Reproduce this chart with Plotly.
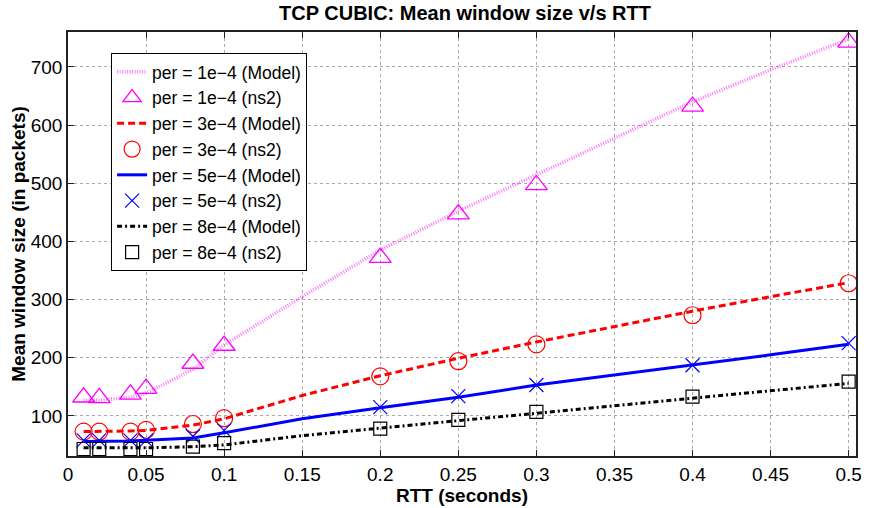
import plotly.graph_objects as go

# ns2 measurement points
rtt_ns2 = [0.01, 0.02, 0.04, 0.05, 0.08, 0.1, 0.2, 0.25, 0.3, 0.4, 0.5]
ns2_1e4 = [132, 131, 137, 147, 190, 221, 372, 447, 497, 632, 742]
ns2_3e4 = [73, 73, 73, 76, 86, 96, 168, 194, 223, 273, 328]
ns2_5e4 = [58, 58, 58, 58, 65, 75, 115, 134, 153, 187, 225]
ns2_8e4 = [43, 43, 43, 43, 47, 53, 78, 93, 107, 133, 159]

# model curves (read at sample points)
rtt_model = [0.01, 0.02, 0.04, 0.05, 0.08, 0.1, 0.15, 0.2, 0.25, 0.3, 0.35, 0.4, 0.45, 0.5]
model_1e4 = [127, 127, 132, 139, 180, 222, 305, 385, 452, 515, 578, 640, 695, 748]
model_3e4 = [73, 73, 74, 75, 84, 95, 135, 169, 199, 227, 254, 280, 305, 329]
model_5e4 = [56, 56, 57, 58, 62, 71, 95, 114, 132, 153, 170, 187, 205, 223]
model_8e4 = [45, 45, 45, 45, 47, 50, 66, 79, 92, 104, 117, 131, 143, 156]

x_ticks = [0, 0.05, 0.1, 0.15, 0.2, 0.25, 0.3, 0.35, 0.4, 0.45, 0.5]
x_tick_labels = ["0", "0.05", "0.1", "0.15", "0.2", "0.25", "0.3", "0.35", "0.4", "0.45", "0.5"]
y_ticks = [100, 200, 300, 400, 500, 600, 700]

FONT = "Liberation Sans, Arial, Helvetica, sans-serif"

fig = go.Figure()

fig.add_trace(go.Scatter(x=rtt_model, y=model_1e4, mode="lines", name="per = 1e\u22124 (Model)",
                         line=dict(color="rgba(255,60,255,0.7)", width=3.5, dash="1px,1.5px")))
fig.add_trace(go.Scatter(x=rtt_ns2, y=ns2_1e4, mode="markers", name="per = 1e\u22124 (ns2)",
                         marker=dict(symbol="triangle-up-open", size=19, color="#ff00ff",
                                     line=dict(width=1.3, color="#ff00ff"))))
fig.add_trace(go.Scatter(x=rtt_model, y=model_3e4, mode="lines", name="per = 3e\u22124 (Model)",
                         line=dict(color="#ff0000", width=3, dash="7px,4px")))
fig.add_trace(go.Scatter(x=rtt_ns2, y=ns2_3e4, mode="markers", name="per = 3e\u22124 (ns2)",
                         marker=dict(symbol="circle-open", size=17, color="#ff0000",
                                     line=dict(width=1.2, color="#ff0000"))))
fig.add_trace(go.Scatter(x=rtt_model, y=model_5e4, mode="lines", name="per = 5e\u22124 (Model)",
                         line=dict(color="#0000ff", width=3)))
fig.add_trace(go.Scatter(x=rtt_ns2, y=ns2_5e4, mode="markers", name="per = 5e\u22124 (ns2)",
                         marker=dict(symbol="x-thin-open", size=14, color="#0000ff",
                                     line=dict(width=1.2, color="#0000ff"))))
fig.add_trace(go.Scatter(x=rtt_model, y=model_8e4, mode="lines", name="per = 8e\u22124 (Model)",
                         line=dict(color="#000000", width=3, dash="5px,3px,2px,3px")))
fig.add_trace(go.Scatter(x=rtt_ns2, y=ns2_8e4, mode="markers", name="per = 8e\u22124 (ns2)",
                         marker=dict(symbol="square-open", size=13, color="#000000",
                                     line=dict(width=1.2, color="#000000"))))

axis_common = dict(
    showline=True, linecolor="#222222", linewidth=1.5, mirror="ticks",
    ticks="inside", ticklen=6, tickcolor="#222222", tickwidth=1,
    showgrid=True, gridcolor="#a8a8a8", griddash="dot", gridwidth=1,
    zeroline=False, tickfont=dict(family=FONT, size=19, color="#000000"),
)

fig.update_layout(
    width=871, height=508,
    margin=dict(l=68, r=9, t=32, b=51),
    paper_bgcolor="white", plot_bgcolor="white",
    font=dict(family=FONT, color="#000000"),
    title=dict(text="<b>TCP CUBIC: Mean window size v/s RTT</b>",
               x=(68 + 862) / 2 / 871, xanchor="center", y=1 - 13 / 508, yanchor="middle",
               yref="container", font=dict(family=FONT, size=20, color="#000000")),
    xaxis=dict(range=[0, 0.5047], tickvals=x_ticks, ticktext=x_tick_labels,
               title=dict(text="<b>RTT (seconds)</b>", standoff=1,
                          font=dict(family=FONT, size=19, color="#000000")),
               **axis_common),
    yaxis=dict(range=[31, 760], tickvals=y_ticks,
               title=dict(text="<b>Mean window size (in packets)</b>", standoff=0,
                          font=dict(family=FONT, size=19, color="#000000")),
               **axis_common),
    legend=dict(x=0.0547, y=0.9506, xanchor="left", yanchor="top",
                bgcolor="white", bordercolor="#000000", borderwidth=1,
                font=dict(family=FONT, size=17.5, color="#000000"),
                itemwidth=30, tracegroupgap=0),
    showlegend=True,
)

fig.write_html("out.html")
